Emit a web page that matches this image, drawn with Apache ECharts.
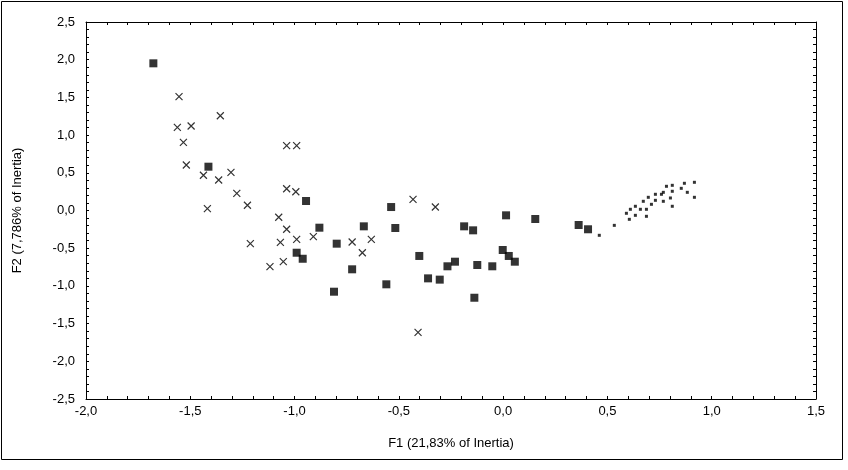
<!DOCTYPE html>
<html>
<head>
<meta charset="utf-8">
<script src="https://cdn.jsdelivr.net/npm/echarts@6/dist/echarts.min.js"></script>
<style>
  html, body { margin: 0; padding: 0; background: #fff; }
  #chart { width: 848px; height: 470px; }
</style>
</head>
<body>
<div id="chart"></div>
<script>
// group 1: filled squares
const squareX = [-1.677, -1.413, -0.945, -0.881, -0.798, -0.990, -0.961, -0.811, -0.724, -0.668,
  -0.537, -0.517, -0.560, -0.402, -0.360, -0.304, -0.267, -0.231, -0.187, -0.144,
  -0.124, -0.138, -0.052, 0.014, -0.002, 0.027, 0.056, 0.154, 0.362, 0.407];
const squareY = [1.952, 0.581, 0.126, -0.228, -0.440, -0.560, -0.640, -1.077, -0.780, -0.210,
  0.046, -0.232, -0.979, -0.603, -0.900, -0.917, -0.740, -0.679, -0.210, -0.263,
  -0.723, -1.157, -0.740, -0.064, -0.524, -0.603, -0.679, -0.113, -0.192, -0.249];

// group 2: crosses
const crossX = [-1.554, -1.356, -1.562, -1.496, -1.533, -1.038, -0.990, -1.519, -1.437, -1.364,
  -1.305, -1.277, -1.418, -1.226, -1.038, -0.994, -1.076, -1.038, -1.212, -1.068,
  -0.990, -0.910, -1.118, -1.054, -0.724, -0.632, -0.675, -0.432, -0.325, -0.408];
const crossY = [1.510, 1.257, 1.103, 1.121, 0.904, 0.860, 0.860, 0.603, 0.467, 0.405,
  0.506, 0.228, 0.024, 0.069, 0.289, 0.249, -0.090, -0.249, -0.440, -0.422,
  -0.382, -0.347, -0.745, -0.679, -0.418, -0.382, -0.560, 0.148, 0.046, -1.616];

// group 3: small dots
const dotX = [0.461, 0.533, 0.591, 0.605, 0.610, 0.634, 0.634, 0.658, 0.672, 0.687,
  0.687, 0.696, 0.711, 0.730, 0.730, 0.759, 0.768, 0.768, 0.783, 0.802,
  0.811, 0.811, 0.811, 0.854, 0.869, 0.883, 0.917, 0.917];
const dotY = [-0.329, -0.197, -0.037, -0.117, 0.016, 0.056, -0.064, 0.016, 0.122, 0.016,
  -0.077, 0.175, 0.082, 0.215, 0.135, 0.215, 0.241, 0.122, 0.321, 0.166,
  0.334, 0.255, 0.056, 0.294, 0.361, 0.241, 0.374, 0.175];

const xName = 'F1 (21,83% of Inertia)';
const yName = 'F2 (7,786% of Inertia)';

const zip = (xs, ys) => xs.map((x, i) => [x, ys[i]]);
const fmt = v => v.toFixed(1).replace('.', ',');
const font = 'Liberation Sans, Arial, sans-serif';
const crossPath = 'path://M0,0L10,10M10,0L0,10';

const chart = echarts.init(document.getElementById('chart'));

const baseAxis = {
  type: 'value',
  interval: 0.5,
  splitLine: { show: false },
  axisLine: { show: true, onZero: false, lineStyle: { color: '#000', width: 1 } },
  axisTick: { show: true, inside: true, length: 3, lineStyle: { color: '#000' } },
  minorTick: { show: true, splitNumber: 5, length: 3, lineStyle: { color: '#000' } },
  axisLabel: { color: '#000', fontFamily: font, fontSize: 13, formatter: fmt }
};

const option = {
  animation: false,
  backgroundColor: '#fff',
  grid: { left: 86, top: 22, width: 730, height: 377 },
  xAxis: [
    Object.assign({}, baseAxis, {
      min: -2, max: 1.5, position: 'bottom',
      axisLabel: Object.assign({}, baseAxis.axisLabel, { margin: 6 }),
      name: xName, nameLocation: 'middle', nameGap: 38,
      nameTextStyle: { color: '#000', fontFamily: font, fontSize: 13 }
    }),
    Object.assign({}, baseAxis, {
      min: -2, max: 1.5, position: 'top', axisLabel: { show: false }
    })
  ],
  yAxis: [
    Object.assign({}, baseAxis, {
      min: -2.5, max: 2.5, position: 'left',
      axisLabel: Object.assign({}, baseAxis.axisLabel, { margin: 11 }),
      name: yName, nameLocation: 'middle', nameGap: 62, nameRotate: 90,
      nameTextStyle: { color: '#000', fontFamily: font, fontSize: 13 }
    }),
    Object.assign({}, baseAxis, {
      min: -2.5, max: 2.5, position: 'right', axisLabel: { show: false }
    })
  ],
  graphic: [{
    type: 'rect',
    shape: { x: 1.5, y: 1.5, width: 841, height: 458 },
    style: { fill: 'none', stroke: '#000', lineWidth: 1 },
    silent: true
  }],
  series: [
    {
      type: 'scatter', data: zip(squareX, squareY),
      symbol: 'rect', symbolSize: 8,
      itemStyle: { color: '#000' }
    },
    {
      type: 'scatter', data: zip(crossX, crossY),
      symbol: crossPath, symbolSize: 7,
      itemStyle: { color: 'none', borderColor: '#000', borderWidth: 1.2 }
    },
    {
      type: 'scatter', data: zip(dotX, dotY),
      symbol: 'rect', symbolSize: 3,
      itemStyle: { color: '#000' }
    }
  ]
};

chart.setOption(option);
</script>
</body>
</html>
